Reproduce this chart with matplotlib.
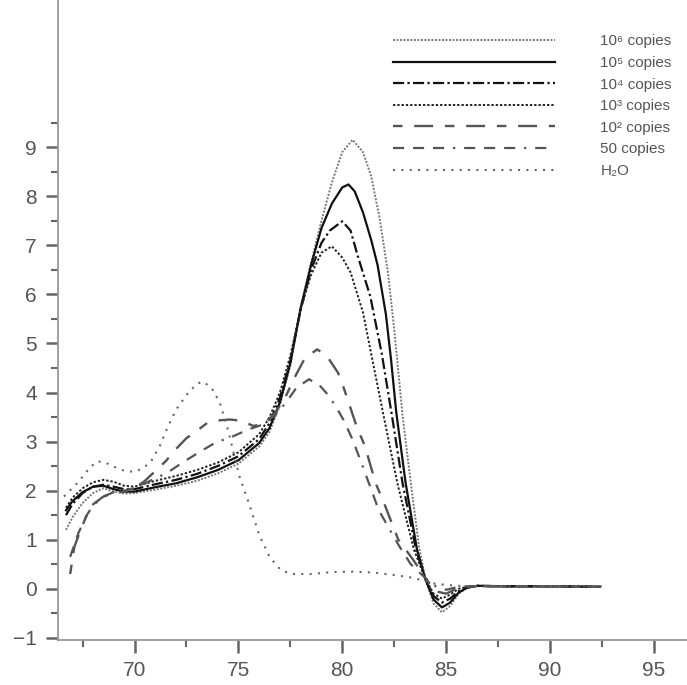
import matplotlib
matplotlib.use("Agg")
import matplotlib.pyplot as plt
from matplotlib.ticker import FixedLocator

# melt curve data (temperature, -dF/dT)
t_1e6 = [66.7, 67.0, 67.5, 68.0, 68.5, 69.0, 69.5, 70.0, 71.0, 72.0, 73.0, 74.0, 75.0,
         76.0, 76.5, 77.0, 77.5, 78.0, 78.5, 79.0, 79.5, 80.0, 80.5, 81.0, 81.4, 81.8,
         82.2, 82.5, 82.9, 83.3, 83.7, 84.0, 84.4, 84.8, 85.2, 85.6, 86.0, 86.5, 88.0,
         90.0, 92.4]
y_1e6 = [1.20, 1.45, 1.75, 1.95, 2.05, 1.98, 1.94, 1.95, 2.02, 2.10, 2.20, 2.35, 2.55,
         2.90, 3.20, 3.75, 4.55, 5.75, 6.65, 7.50, 8.28, 8.90, 9.15, 8.90, 8.40, 7.55,
         6.45, 5.30, 3.55, 2.16, 0.85, 0.20, -0.30, -0.48, -0.35, -0.10, 0.02, 0.06, 0.05,
         0.05, 0.04]

t_1e5 = [66.7, 67.0, 67.5, 68.0, 68.5, 69.0, 69.5, 70.0, 71.0, 72.0, 73.0, 74.0, 75.0,
         76.0, 76.5, 77.0, 77.5, 78.0, 78.5, 79.0, 79.5, 80.0, 80.3, 80.6, 81.0, 81.4,
         81.7, 82.1, 82.35, 82.6, 83.05, 83.6, 84.0, 84.4, 84.8, 85.2, 85.6, 86.0, 86.5,
         88.0, 90.0, 92.4]
y_1e5 = [1.60, 1.78, 1.97, 2.08, 2.10, 2.03, 1.98, 1.98, 2.07, 2.15, 2.27, 2.42, 2.62,
         2.97, 3.28, 3.80, 4.60, 5.72, 6.60, 7.35, 7.85, 8.18, 8.24, 8.10, 7.67, 7.10,
         6.60, 5.60, 4.67, 3.60, 2.16, 0.80, 0.20, -0.22, -0.38, -0.28, -0.08, 0.02, 0.06,
         0.05, 0.05, 0.04]

t_1e4 = [66.7, 67.0, 67.5, 68.0, 68.5, 69.0, 69.5, 70.0, 71.0, 72.0, 73.0, 74.0, 75.0,
         76.0, 76.5, 77.0, 77.5, 78.0, 78.5, 79.0, 79.4, 80.0, 80.4, 80.75, 81.35, 81.9,
         82.4, 82.9, 83.55, 84.0, 84.4, 84.8, 85.2, 85.6, 86.0, 86.5, 88.0, 90.0, 92.4]
y_1e4 = [1.50, 1.72, 1.95, 2.08, 2.12, 2.08, 2.03, 2.03, 2.13, 2.22, 2.34, 2.50, 2.70,
         3.05, 3.38, 3.90, 4.65, 5.70, 6.50, 7.05, 7.30, 7.49, 7.30, 6.78, 5.96, 4.80,
         3.51, 2.16, 0.80, 0.20, -0.15, -0.28, -0.20, -0.05, 0.03, 0.06, 0.05, 0.05, 0.04]

t_1e3 = [66.7, 67.0, 67.5, 68.0, 68.5, 69.0, 69.5, 70.0, 71.0, 72.0, 73.0, 74.0, 75.0,
         76.0, 76.5, 77.0, 77.5, 78.0, 78.5, 79.0, 79.5, 80.0, 80.4, 81.0, 81.45, 82.0,
         82.65, 83.45, 84.0, 84.4, 84.8, 85.2, 85.6, 86.0, 86.5, 88.0, 90.0, 92.4]
y_1e3 = [1.65, 1.85, 2.05, 2.17, 2.22, 2.18, 2.10, 2.08, 2.20, 2.30, 2.42, 2.57, 2.78,
         3.15, 3.50, 4.00, 4.75, 5.70, 6.40, 6.85, 6.98, 6.75, 6.45, 5.63, 4.67, 3.51,
         2.16, 0.80, 0.20, -0.10, -0.20, -0.12, 0.00, 0.04, 0.06, 0.05, 0.05, 0.04]

t_1e2 = [66.9, 67.1, 67.4, 67.7, 68.0, 68.5, 69.0, 69.5, 70.0, 70.5, 71.0, 71.5, 72.0,
         72.5, 73.0, 73.5, 74.0, 74.6, 75.2, 75.7, 76.2, 76.7, 77.2, 77.7, 78.2, 78.8,
         79.3, 79.8, 80.1, 80.7, 81.1, 81.6, 82.0, 82.7, 83.4, 84.0, 84.5, 85.0, 85.5,
         86.0, 88.0, 90.0, 92.4]
y_1e2 = [0.30, 0.85, 1.20, 1.50, 1.72, 1.88, 1.95, 1.98, 2.05, 2.20, 2.40, 2.60, 2.85,
         3.07, 3.22, 3.38, 3.43, 3.45, 3.42, 3.32, 3.35, 3.55, 3.85, 4.30, 4.70, 4.88,
         4.72, 4.40, 4.06, 3.30, 2.90, 2.16, 1.76, 1.00, 0.60, 0.22, -0.05, -0.10, 0.00,
         0.05, 0.05, 0.05, 0.04]

t_50 = [66.9, 67.3, 67.7, 68.0, 68.5, 69.0, 69.5, 70.0, 70.5, 71.0, 71.6, 72.3, 73.1,
        73.9, 74.7, 75.5, 76.2, 76.8, 77.3, 77.8, 78.4, 78.9, 79.3, 79.7, 80.05, 80.5,
        80.9, 81.4, 81.75, 82.2, 82.7, 83.3, 84.0, 84.5, 85.0, 85.5, 86.0, 88.0, 90.0,
        92.4]
y_50 = [0.65, 1.14, 1.50, 1.70, 1.88, 1.97, 2.00, 2.05, 2.15, 2.25, 2.37, 2.57, 2.78,
        2.98, 3.10, 3.25, 3.35, 3.55, 3.80, 4.10, 4.27, 4.15, 3.96, 3.71, 3.45, 3.04,
        2.59, 2.02, 1.61, 1.27, 0.90, 0.50, 0.22, 0.05, -0.02, 0.03, 0.05, 0.05, 0.05,
        0.04]

t_h2o = [66.6, 67.3, 67.85, 68.2, 68.6, 69.1, 69.6, 70.05, 70.45, 70.8, 71.25, 71.6,
         72.0, 72.5, 73.0, 73.3, 73.7, 74.1, 74.5, 75.05, 75.5, 76.0, 76.5, 77.0, 77.5,
         78.5, 79.5, 80.5, 81.5, 82.5, 83.45, 84.0, 84.5, 85.0, 85.5, 86.5, 92.5]
y_h2o = [1.88, 2.18, 2.47, 2.60, 2.57, 2.47, 2.39, 2.39, 2.47, 2.60, 2.94, 3.30,
         3.65, 3.95, 4.18, 4.22, 4.10, 3.80, 3.24, 2.29, 1.75, 1.10, 0.65, 0.40, 0.30,
         0.30, 0.34, 0.35, 0.33, 0.28, 0.22, 0.15, 0.10, 0.08, 0.06, 0.05, 0.05]

labels = ['10\u2076 copies', '10\u2075 copies', '10\u2074 copies', '10\u00b3 copies',
          '10\u00b2 copies', '50 copies', 'H\u2082O']

fig = plt.figure(figsize=(6.87, 6.85), dpi=100)
ax = fig.add_axes([0.084, 0.066, 0.916, 0.934])

ax.plot(t_1e6, y_1e6, color='#777777', lw=1.4, ls=(0, (1, 0.8)), label=labels[0])
ax.plot(t_1e5, y_1e5, color='#111111', lw=1.6, ls='-', label=labels[1])
ax.plot(t_1e4, y_1e4, color='#111111', lw=1.6, ls=(0, (5, 1.5, 1, 1.5)), label=labels[2])
ax.plot(t_1e3, y_1e3, color='#222222', lw=1.4, ls=(0, (1.2, 1)), label=labels[3])
ax.plot(t_1e2, y_1e2, color='#555555', lw=1.7, ls=(0, (4, 5, 8, 5)), label=labels[4])
ax.plot(t_50, y_50, color='#555555', lw=1.6, ls=(0, (5, 4, 5, 4, 5, 4, 1, 4)), label=labels[5])
ax.plot(t_h2o, y_h2o, color='#666666', lw=1.5, ls=(0, (1, 3)), label=labels[6])

ax.set_xlim(66.3, 96.6)
ax.set_ylim(-1.04, 12.0)

ax.xaxis.set_major_locator(FixedLocator([70, 75, 80, 85, 90, 95]))
ax.xaxis.set_minor_locator(FixedLocator([67.5, 72.5, 77.5, 82.5, 87.5, 92.5]))
ax.yaxis.set_major_locator(FixedLocator(list(range(-1, 10))))
ax.yaxis.set_minor_locator(FixedLocator([v + 0.5 for v in range(-1, 10)]))

for side in ['top', 'right']:
    ax.spines[side].set_visible(False)
for side in ['left', 'bottom']:
    ax.spines[side].set_color('#999999')
    ax.spines[side].set_linewidth(1.3)

ax.tick_params(which='major', length=9, width=1.8, color='#666666', pad=6,
               labelsize=15, labelcolor='#555555')
ax.tick_params(which='minor', length=5, width=1.5, color='#666666')
for lab in ax.get_xticklabels() + ax.get_yticklabels():
    lab.set_family('Liberation Sans')

leg = ax.legend(loc='upper right', bbox_to_anchor=(0.998, 0.968), frameon=False,
                handlelength=10.6, handletextpad=3.0, labelspacing=0.5,
                prop={'family': ['Liberation Sans', 'DejaVu Sans'], 'size': 11})
for txt in leg.get_texts():
    txt.set_color('#555555')

fig.savefig('out.png', dpi=100)
